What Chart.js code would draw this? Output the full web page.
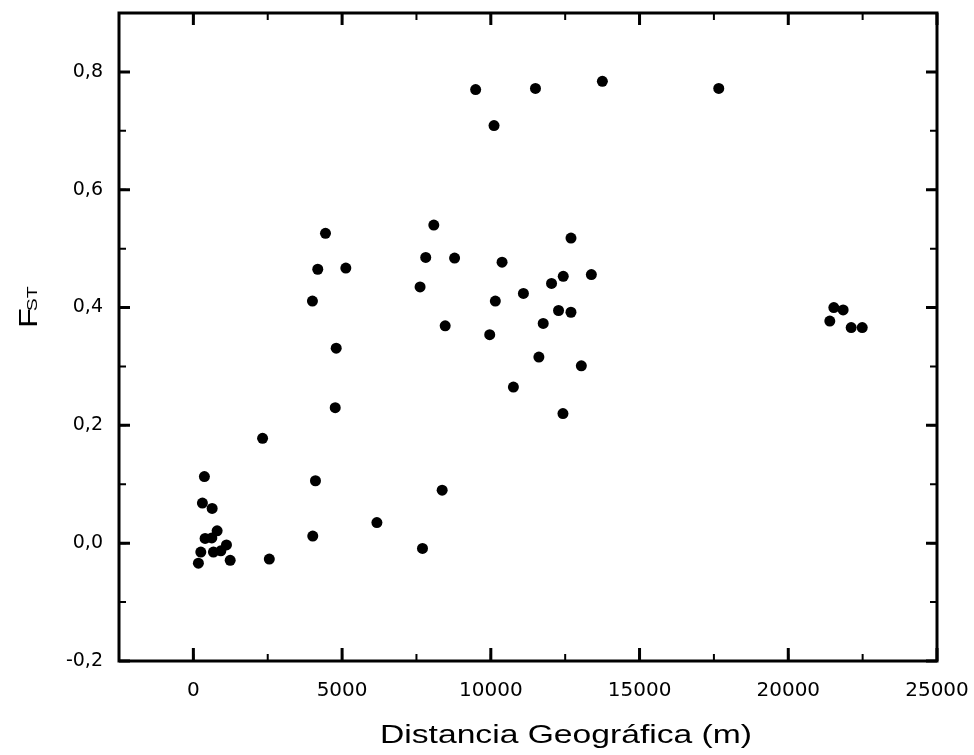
<!DOCTYPE html>
<html>
<head>
<meta charset="utf-8">
<script src="https://cdn.jsdelivr.net/npm/chart.js@4/dist/chart.umd.min.js"></script>
<style>
  html, body { margin: 0; padding: 0; background: #fff; }
  #wrap { width: 974px; height: 755px; }
</style>
</head>
<body>
<div id="wrap"><canvas id="fst-chart" width="974" height="755"></canvas></div>
<script>
// distancia geografica (m) and Fst for each pair of populations
const distances = [
  169, 250, 304, 371, 395, 620, 631, 675, 799, 924, 1113, 1238,
  2327, 2553, 4003, 4014, 4105, 4182, 4442, 4769, 4802, 5126, 6170,
  7622, 7703, 7812, 8083, 8364, 8466, 8782, 9490, 9963, 10108, 10152,
  10378, 10759, 11096, 11501, 11616, 11761, 12041, 12277, 12425, 12435,
  12694, 12695, 13043, 13380, 13750, 17663, 21396, 21532, 21845, 22115, 22486
];
const fstValues = [
  -0.034, -0.015, 0.068, 0.113, 0.008, 0.009, 0.059, -0.015, 0.021, -0.013, -0.003, -0.029,
  0.178, -0.027, 0.411, 0.012, 0.106, 0.465, 0.526, 0.230, 0.331, 0.467, 0.035,
  0.435, -0.009, 0.485, 0.540, 0.090, 0.369, 0.484, 0.770, 0.354, 0.709, 0.411,
  0.477, 0.265, 0.424, 0.772, 0.316, 0.373, 0.441, 0.395, 0.220, 0.453,
  0.392, 0.518, 0.301, 0.456, 0.784, 0.772, 0.377, 0.400, 0.396, 0.366, 0.366
];

// tick labels
const xTicks = [0, 5000, 10000, 15000, 20000, 25000];
const yTicks = [-0.2, 0, 0.2, 0.4, 0.6, 0.8];

const xTitle = 'Distancia Geográfica (m)';

let points = [];
for (let i = 0; i < distances.length; i++) {
  points.push({x: distances[i], y: fstValues[i]});
}

// frame, inward ticks (major + minor) and axis titles
const framePlugin = {
  id: 'frame',
  afterDraw(chart) {
    const ctx = chart.ctx;
    const a = chart.chartArea;
    const xs = chart.scales.x;
    const ys = chart.scales.y;
    ctx.save();
    ctx.strokeStyle = '#000';
    ctx.lineCap = 'butt';

    // minor ticks
    ctx.lineWidth = 2;
    for (let v = xs.min; v <= xs.max + 1; v += 2500) {
      const px = xs.getPixelForValue(v);
      ctx.beginPath();
      ctx.moveTo(px, a.bottom); ctx.lineTo(px, a.bottom - 7);
      ctx.moveTo(px, a.top); ctx.lineTo(px, a.top + 7);
      ctx.stroke();
    }
    for (let v = ys.min; v <= ys.max + 1e-6; v += 0.1) {
      const py = ys.getPixelForValue(v);
      ctx.beginPath();
      ctx.moveTo(a.left, py); ctx.lineTo(a.left + 7, py);
      ctx.moveTo(a.right, py); ctx.lineTo(a.right - 7, py);
      ctx.stroke();
    }
    // major ticks
    ctx.lineWidth = 3;
    xs.ticks.forEach(t => {
      const px = xs.getPixelForValue(t.value);
      ctx.beginPath();
      ctx.moveTo(px, a.bottom); ctx.lineTo(px, a.bottom - 13);
      ctx.moveTo(px, a.top); ctx.lineTo(px, a.top + 12);
      ctx.stroke();
    });
    ys.ticks.forEach(t => {
      const py = ys.getPixelForValue(t.value);
      ctx.beginPath();
      ctx.moveTo(a.left, py); ctx.lineTo(a.left + 11, py);
      ctx.moveTo(a.right, py); ctx.lineTo(a.right - 11, py);
      ctx.stroke();
    });

    // frame
    ctx.lineWidth = 3;
    ctx.strokeRect(a.left, a.top, a.right - a.left, a.bottom - a.top);

    // x title (stretched like the scanned original)
    ctx.fillStyle = '#000';
    ctx.font = '25px "Liberation Sans", Arial, sans-serif';
    ctx.textAlign = 'center';
    ctx.textBaseline = 'middle';
    const w = ctx.measureText(xTitle).width;
    ctx.save();
    ctx.translate(566, 736);
    ctx.scale(372 / w, 1);
    ctx.fillText(xTitle, 0, 0);
    ctx.restore();

    // y title F with subscript ST
    ctx.save();
    ctx.translate(37, 308);
    ctx.rotate(-Math.PI / 2);
    ctx.textAlign = 'left';
    ctx.textBaseline = 'alphabetic';
    ctx.font = '25px "Liberation Sans", Arial, sans-serif';
    const fw = ctx.measureText('F').width;
    ctx.save();
    ctx.scale(1.3, 1);
    ctx.fillText('F', -20 / 1.3, 0);
    ctx.restore();
    ctx.font = '15px "Liberation Sans", Arial, sans-serif';
    ctx.save();
    ctx.scale(1.3, 1);
    ctx.fillText('ST', (-20 + fw * 1.3 - 3) / 1.3, 0);
    ctx.restore();
    ctx.restore();

    ctx.restore();
  }
};

const fstData = {
  datasets: [{
    data: points,
    backgroundColor: '#000',
    borderColor: '#000',
    pointRadius: 5.5,
    pointHoverRadius: 5.5,
    borderWidth: 0
  }]
};

const fstConfig = {
  type: 'scatter',
  data: fstData,
  options: {
    responsive: false,
    animation: false,
    events: [],
    layout: { padding: { top: 13, right: 37, left: 0, bottom: 0 } },
    plugins: { legend: { display: false }, tooltip: { enabled: false } },
    scales: {
      x: {
        type: 'linear',
        min: -2500,
        max: 25000,
        grid: { display: false, drawTicks: false },
        border: { display: false },
        ticks: {
          autoSkip: false,
          padding: 18,
          color: '#000',
          font: { family: '"DejaVu Sans", Arial, sans-serif', size: 20 },
          maxRotation: 0,
          callback: v => String(v)
        },
        afterBuildTicks: s => { s.ticks = xTicks.map(v => ({value: v})); },
        afterFit: s => { s.height = 94; s.paddingLeft = 0; s.paddingRight = 0; }
      },
      y: {
        type: 'linear',
        min: -0.2,
        max: 0.9,
        grid: { display: false, drawTicks: false },
        border: { display: false },
        ticks: {
          autoSkip: false,
          padding: 16,
          color: '#000',
          font: { family: '"DejaVu Sans", Arial, sans-serif', size: 19 },
          callback: v => v.toFixed(1).replace('.', ',')
        },
        afterBuildTicks: s => { s.ticks = yTicks.map(v => ({value: v})); },
        afterFit: s => { s.width = 119; s.paddingTop = 0; s.paddingBottom = 0; }
      }
    }
  },
  plugins: [framePlugin]
};

const fstChart = new Chart(document.getElementById('fst-chart'), fstConfig);
</script>
</body>
</html>
